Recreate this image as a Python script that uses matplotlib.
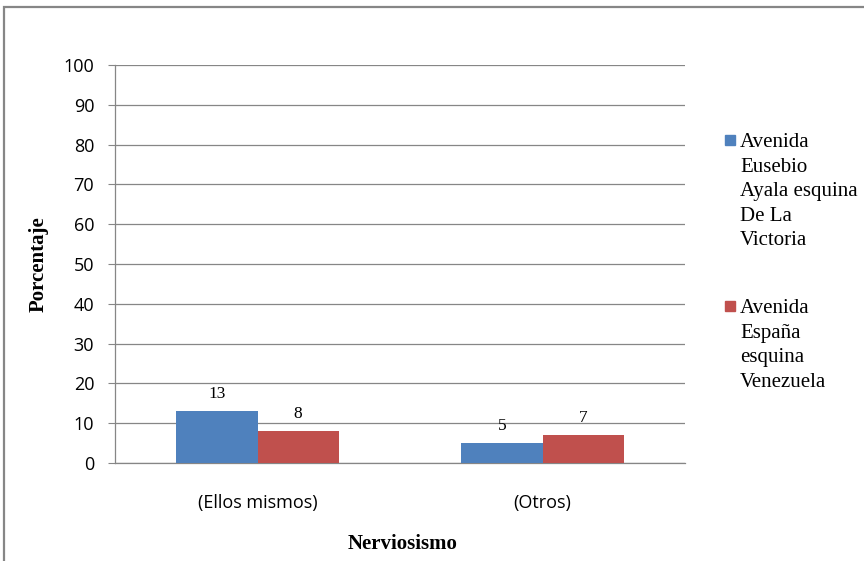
import matplotlib
matplotlib.use("Agg")
import matplotlib.pyplot as plt
from matplotlib.patches import Rectangle
import numpy as np

categories = ["(Ellos mismos)", "(Otros)"]
series_names = [
    ["Avenida", "Eusebio", "Ayala esquina", "De La", "Victoria"],
    ["Avenida", "España", "esquina", "Venezuela"],
]
eusebio_ayala = [13, 5]
espana = [8, 7]
y_ticks = [0, 10, 20, 30, 40, 50, 60, 70, 80, 90, 100]

colors = ["#4F81BD", "#C0504D"]
grid_gray = "#868686"
W, H = 864, 561

fig = plt.figure(figsize=(W / 100, H / 100), dpi=100)
ax = fig.add_axes([115 / W, 1 - 463 / H, 570 / W, 398 / H])

x = np.arange(len(categories))
width = 0.285
for i, (vals, col) in enumerate(zip([eusebio_ayala, espana], colors)):
    offs = (i - 0.5) * width
    bars = ax.bar(x + offs, vals, width, color=col, zorder=3)
    for b, v in zip(bars, vals):
        ax.annotate(str(v), (b.get_x() + b.get_width() / 2, v),
                    xytext=(0, 9.5), textcoords="offset points",
                    ha="center", va="baseline",
                    family="Liberation Serif", fontsize=12.5)

ax.set_xlim(-0.5, len(categories) - 0.5)
ax.set_ylim(0, 100)
ax.set_yticks(y_ticks)
ax.set_xticks(x)
ax.set_xticklabels(categories, family="Open Sans", fontsize=13)
for lbl in ax.get_yticklabels():
    lbl.set_family("Open Sans")
    lbl.set_fontsize(13)
ax.yaxis.grid(True, color=grid_gray, linewidth=0.9, zorder=0)
ax.tick_params(axis="y", length=5, color=grid_gray, pad=10)
ax.tick_params(axis="x", length=0, pad=22)
for s in ["top", "right"]:
    ax.spines[s].set_visible(False)
for s in ["left", "bottom"]:
    ax.spines[s].set_color(grid_gray)
    ax.spines[s].set_linewidth(0.9)

ax.set_ylabel("Porcentaje", family="Liberation Serif", fontweight="bold", fontsize=15)
ax.yaxis.set_label_coords(-0.116, 0.5)
ax.set_xlabel("Nerviosismo", family="Liberation Serif", fontweight="bold", fontsize=15)
ax.xaxis.set_label_coords(0.505, -0.178)

# legend drawn by hand: square marker beside a wrapped label
legend_baselines = [147, 313]
line_step = 24.6
for lines, col, yb in zip(series_names, colors, legend_baselines):
    fig.add_artist(Rectangle((725 / W, 1 - (yb - 2) / H), 10 / W, 10 / H,
                             transform=fig.transFigure, color=col))
    for k, line in enumerate(lines):
        fig.text(740 / W, 1 - (yb + k * line_step) / H, line,
                 family="Liberation Serif", fontsize=15,
                 va="baseline", ha="left")

# outer chart frame (right and bottom edges fall outside the image)
top = 1 - 7 / H
fig.add_artist(Rectangle((4 / W, -0.2), 1.2, top + 0.2,
                         transform=fig.transFigure, fill=False,
                         edgecolor=grid_gray, linewidth=1.6))

fig.savefig("out.png", dpi=100)
